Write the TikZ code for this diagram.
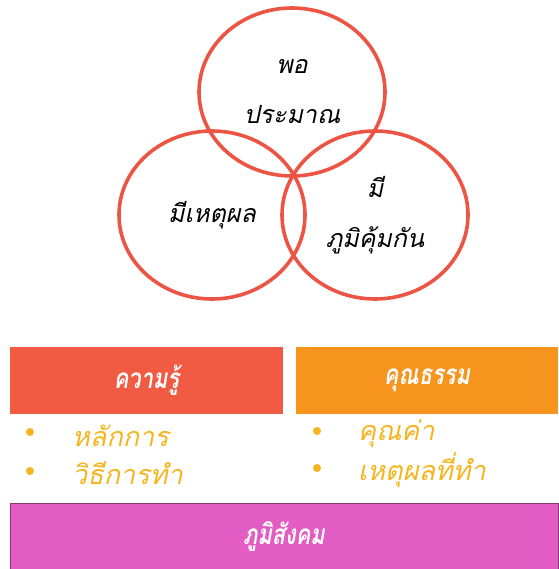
\documentclass[tikz,border=0pt]{standalone}
\usepackage{fontspec}
\newfontfamily\thaifont[Script=Thai]{Loma}
\newfontfamily\thaititle[Script=Thai,FakeStretch=0.78]{Loma}
\usetikzlibrary{shapes.geometric}
\definecolor{ringred}{HTML}{EC5444}
\definecolor{knowred}{HTML}{F15A43}
\definecolor{virtorange}{HTML}{F7941E}
\definecolor{socpink}{HTML}{E25CC4}
\definecolor{bulletgold}{HTML}{F6B51E}
\begin{document}
\begin{tikzpicture}[x=1pt,y=-1pt,
  ring/.style={draw=ringred,line width=3.6pt,ellipse,minimum width=186pt,minimum height=168pt,
    inner sep=0pt,align=center,font=\thaifont\itshape\fontsize{25}{50}\selectfont},
  bar/.style={rectangle,inner sep=0pt,minimum height=67pt,text=white,
    font=\thaititle\bfseries\itshape\fontsize{28}{30}\selectfont},
  dot/.style={circle,fill=bulletgold,inner sep=0pt,minimum size=8pt},
  item/.style={anchor=west,text=bulletgold,inner sep=0pt,font=\thaifont\itshape\fontsize{27}{30}\selectfont}]
    \useasboundingbox (0,0) rectangle (558,569);
    % three rings
    \node[ring] (por) at (292,92) {พอ\\ประมาณ};
    \node[ring] (het) at (212,215) {มีเหตุผล};
    \node[ring] (pum) at (375,215) {มี\\ภูมิคุ้มกัน};
    % conditions
    \node[bar,fill=knowred,minimum width=273pt] (know) at (146.5,380.5) {ความรู้};
    \node[bar,fill=virtorange,minimum width=262pt] (virt) at (427,380.5) {คุณธรรม};
    \node[dot] (k1) at (30,432) {};
    \node[dot] (k2) at (30,471) {};
    \node[item] (k1t) at (72,436) {หลักการ};
    \node[item] (k2t) at (72,473) {วิธีการทำ};
    \node[dot] (v1) at (317,431) {};
    \node[dot] (v2) at (317,468) {};
    \node[item] (v1t) at (358,434) {คุณค่า};
    \node[item] (v2t) at (358,470) {เหตุผลที่ทำ};
    \node[bar,fill=socpink,draw=socpink!60!black,line width=0.8pt,minimum width=548pt,minimum height=66pt] (soc) at (284,536) {ภูมิสังคม};
\end{tikzpicture}
\end{document}
